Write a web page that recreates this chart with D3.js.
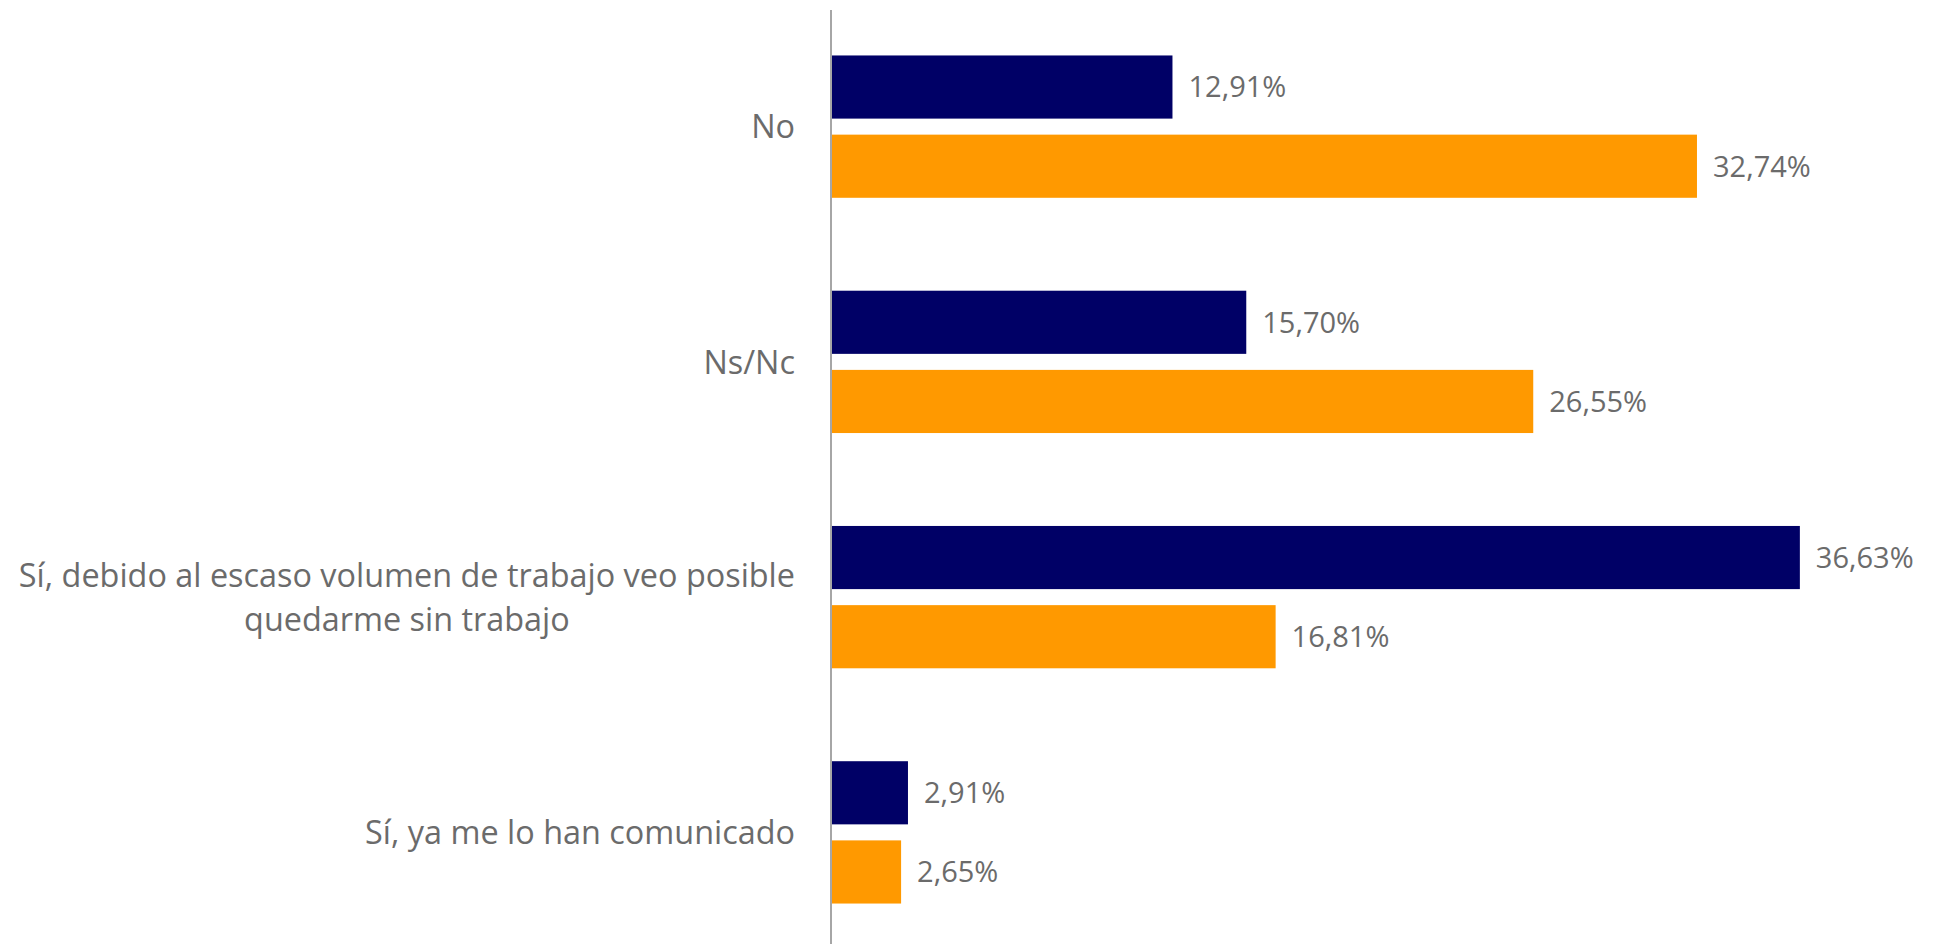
<!DOCTYPE html>
<html><head><meta charset="utf-8">
<script src="https://cdn.jsdelivr.net/npm/d3@7"></script>
<style>html,body{margin:0;padding:0;background:#fff;overflow:hidden}</style>
</head><body>
<svg id="chart" width="1933" height="944"></svg>
<script>
const categories = ["No", "Ns/Nc", "Sí, debido al escaso volumen de trabajo veo posible\nquedarme sin trabajo", "Sí, ya me lo han comunicado"];
const seriesNames = ["Serie 1", "Serie 2"];
const series1 = [12.91, 15.70, 36.63, 2.91];
const series2 = [32.74, 26.55, 16.81, 2.65];
const colors = ["#000066", "#FF9900"];

const fmt = v => v.toFixed(2).replace(".", ",") + "%";
const svg = d3.select("#chart");
const axisX = 831, plotTop = 9, plotBottom = 950;
const x = d3.scaleLinear().domain([0, 40]).range([axisX, axisX + 40 * 26.45]);
const y = d3.scaleBand().domain(categories).range([plotTop, plotBottom]).paddingInner(0.395).paddingOuter(0.1975);
const yInner = d3.scaleBand().domain(seriesNames).range([0, y.bandwidth()]).paddingInner(0.2025);

const textColor = "#6b6b6b";
const font = "'Open Sans', 'Liberation Sans', sans-serif";

const data = categories.map((c, i) => ({ cat: c, vals: [series1[i], series2[i]] }));

const g = svg.selectAll("g.cat").data(data).join("g").attr("class", "cat")
  .attr("transform", d => `translate(0,${y(d.cat)})`);

g.selectAll("rect").data(d => d.vals.map((v, j) => ({ v, s: seriesNames[j], j })))
  .join("rect")
  .attr("x", x(0)).attr("y", d => yInner(d.s))
  .attr("width", d => x(d.v) - x(0)).attr("height", yInner.bandwidth())
  .attr("fill", d => colors[d.j]);

g.selectAll("text.val").data(d => d.vals.map((v, j) => ({ v, s: seriesNames[j], j })))
  .join("text").attr("class", "val")
  .attr("x", d => x(d.v) + 16).attr("y", d => yInner(d.s) + yInner.bandwidth() / 2)
  .attr("dy", "0.36em")
  .attr("fill", textColor).style("font-family", font).style("font-size", "29px")
  .text(d => fmt(d.v));

// category labels
const catText = svg.selectAll("text.cat").data(categories).join("text").attr("class", "cat")
  .attr("text-anchor", "middle")
  .attr("fill", textColor).style("font-family", font).style("font-size", "32.4px");

const labelRight = 795;
catText.each(function (c) {
  const lines = c.split("\n");
  const t = d3.select(this);
  const cy = y(c) + y.bandwidth() / 2;
  const lh = 44;
  lines.forEach((ln, k) => {
    t.append("tspan").attr("y", cy + (k - (lines.length - 1) / 2) * lh).attr("dy", "0.36em").text(ln);
  });
});
catText.each(function () {
  const t = d3.select(this);
  const spans = t.selectAll("tspan").nodes();
  const maxW = d3.max(spans, s => s.getComputedTextLength());
  spans.forEach(s => d3.select(s).attr("x", labelRight - maxW / 2));
});

// axis line
svg.append("line").attr("x1", axisX).attr("x2", axisX).attr("y1", 10).attr("y2", 944)
  .attr("stroke", "#a6a6a6").attr("stroke-width", 2);
</script>
</body></html>
